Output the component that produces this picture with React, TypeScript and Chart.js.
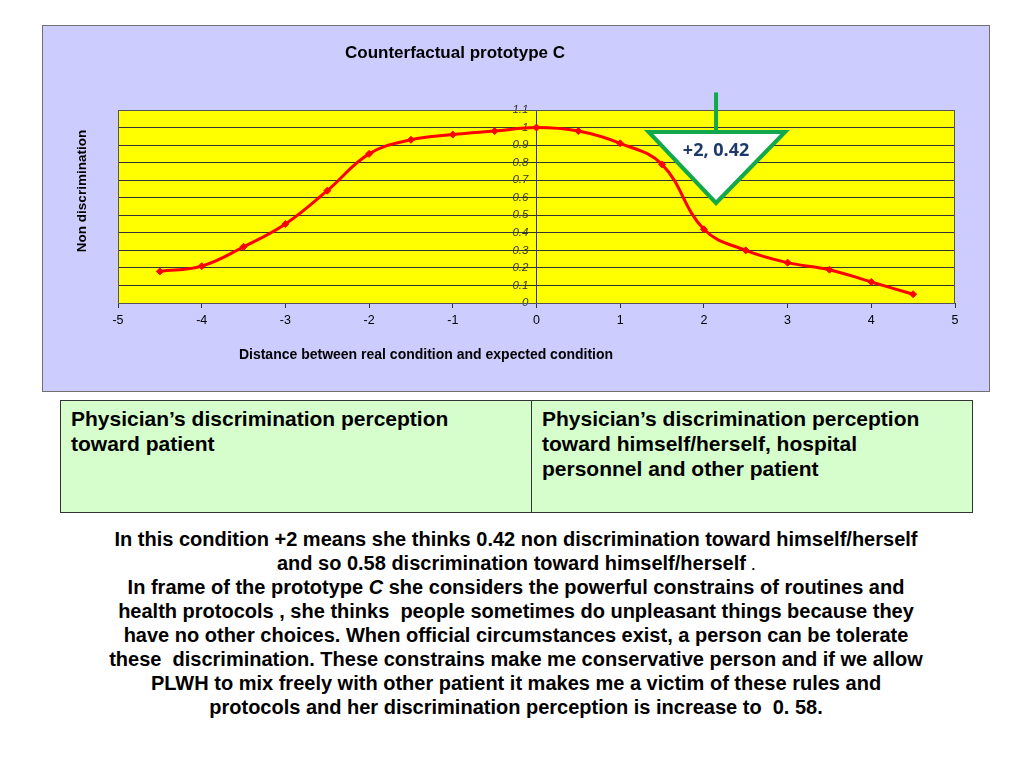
import React, { useEffect, useRef } from "react";
import { Chart, registerables } from "chart.js";

Chart.register(...registerables);

// ---- data ----
const xValues = [-4.5, -4, -3.5, -3, -2.5, -2, -1.5, -1, -0.5, 0, 0.5, 1, 1.5, 2, 2.5, 3, 3.5, 4, 4.5];
const yValues = [0.18, 0.21, 0.32, 0.45, 0.64, 0.85, 0.93, 0.96, 0.98, 1.0, 0.98, 0.91, 0.79, 0.42, 0.3, 0.23, 0.19, 0.12, 0.05];
const xRange = [-5, 5];
const yRange = [0, 1.1];
const chartTitle = "Counterfactual prototype C";
const xTitle = "Distance between real condition and expected condition";
const yTitle = "Non discrimination";
const calloutLabel = "+2, 0.42";
const tableCells = [
  "Physician\u2019s discrimination perception toward patient",
  "Physician\u2019s discrimination perception toward himself/herself, hospital personnel and other patient",
];

const FONT = "'Liberation Sans', Arial, sans-serif";

const decorPlugin = {
  id: "decor",
  beforeDraw(chart: any) {
    const { ctx, chartArea: a } = chart;
    ctx.save();
    ctx.fillStyle = "#ccccff";
    ctx.fillRect(0, 0, chart.width, chart.height);
    ctx.fillStyle = "#ffff00";
    ctx.fillRect(a.left, a.top, a.right - a.left, a.bottom - a.top);
    ctx.restore();
  },
  afterDraw(chart: any) {
    const { ctx, chartArea: a, scales } = chart;
    const xs = scales.x;
    const ys = scales.y;
    ctx.save();
    // plot border
    ctx.strokeStyle = "#555555";
    ctx.lineWidth = 1;
    ctx.strokeRect(a.left + 0.5, a.top + 0.5, a.right - a.left - 1, a.bottom - a.top);
    // titles
    ctx.fillStyle = "#000000";
    ctx.textAlign = "center";
    ctx.textBaseline = "middle";
    ctx.font = `bold 17px ${FONT}`;
    ctx.fillText(chartTitle, 412, 27);
    ctx.font = `bold 14px ${FONT}`;
    ctx.fillText(xTitle, 383, 329);
    ctx.save();
    ctx.translate(39, 165);
    ctx.rotate(-Math.PI / 2);
    ctx.font = `bold 13.5px ${FONT}`;
    ctx.fillText(yTitle, 0, 0);
    ctx.restore();

    // callout triangle
    const cx = xs.getPixelForValue(2.145);
    const lx = xs.getPixelForValue(1.34);
    const rx = xs.getPixelForValue(2.97);
    const ty = ys.getPixelForValue(0.975);
    const by = ys.getPixelForValue(0.57);
    const stemTop = ys.getPixelForValue(1.2);
    ctx.strokeStyle = "#12a84c";
    ctx.lineWidth = 4;
    ctx.lineJoin = "miter";
    ctx.beginPath();
    ctx.moveTo(cx, stemTop);
    ctx.lineTo(cx, ty);
    ctx.stroke();
    ctx.beginPath();
    ctx.moveTo(lx, ty);
    ctx.lineTo(rx, ty);
    ctx.lineTo(cx, by);
    ctx.closePath();
    ctx.fillStyle = "#ffffff";
    ctx.fill();
    ctx.stroke();
    ctx.fillStyle = "#1f3a68";
    ctx.font = `bold 18px 'Open Sans', ${FONT}`;
    ctx.fillText(calloutLabel, cx, ty + 19);
    ctx.restore();
  },
};

function ChartBox() {
  const ref = useRef<HTMLCanvasElement | null>(null);
  useEffect(() => {
    if (!ref.current) return;
    const chart = new Chart(ref.current, {
      type: "line",
      data: {
        datasets: [
          {
            data: xValues.map((x, i) => ({ x, y: yValues[i] })),
            borderColor: "#ff0000",
            backgroundColor: "#ff0000",
            borderWidth: 3,
            pointStyle: "rectRot",
            pointRadius: 3.5,
            pointBorderWidth: 1,
            tension: 0.4,
            fill: false,
          },
        ],
      },
      options: {
        animation: false,
        responsive: false,
        devicePixelRatio: 1,
        layout: { padding: { left: 75, right: 34, top: 84, bottom: 0 } },
        plugins: {
          legend: { display: false },
          tooltip: { enabled: false },
          title: { display: false },
        },
        scales: {
          x: {
            type: "linear",
            min: xRange[0],
            max: xRange[1],
            afterFit: (s: any) => {
              s.height = 88;
            },
            grid: {
              drawOnChartArea: false,
              drawTicks: true,
              tickLength: 5,
              color: "#333333",
            },
            border: { color: "#333333" },
            ticks: {
              stepSize: 1,
              padding: 5,
              color: "#000000",
              font: { family: FONT, size: 12.5 },
              callback: (v: any) => String(v),
            },
          },
          y: {
            type: "linear",
            position: { x: 0 } as any,
            min: yRange[0],
            max: yRange[1],
            grid: {
              color: "#333333",
              drawTicks: false,
            },
            border: { color: "#333333" },
            ticks: {
              stepSize: 0.1,
              padding: 6,
              color: "#333333",
              font: { family: FONT, size: 11.5, style: "italic" },
              // trailing spaces keep the labels clear of the centred axis line
              callback: (v: any) => String(Math.round(Number(v) * 10) / 10) + "\u2002\u2009",
            },
          },
        },
      } as any,
      plugins: [decorPlugin],
    });
    return () => chart.destroy();
  }, []);
  return <canvas ref={ref} width={946} height={365} style={{ display: "block", width: 946, height: 365 }} />;
}

const paragraphLines: React.ReactNode[] = [
  "In this condition +2 means she thinks 0.42 non discrimination toward himself/herself",
  <>
    and so 0.58 discrimination toward himself/herself <span style={{ fontSize: 13, lineHeight: 0 }}>.</span>
  </>,
  <>
    In frame of the prototype <i style={{ lineHeight: 0 }}>C</i> she considers the powerful constrains of routines and
  </>,
  "health protocols , she thinks\u00a0 people sometimes do unpleasant things because they",
  "have no other choices. When official circumstances exist, a person can be tolerate",
  "these\u00a0 discrimination. These constrains make me conservative person and if we allow",
  "PLWH to mix freely with other patient it makes me a victim of these rules and",
  "protocols and her discrimination perception is increase to\u00a0 0. 58.",
];

export default function App() {
  const cellStyle: React.CSSProperties = {
    position: "absolute",
    top: 0,
    bottom: 0,
    boxSizing: "border-box",
    padding: "5px 10px",
    fontFamily: FONT,
    fontWeight: "bold",
    fontSize: 21,
    lineHeight: "25px",
    color: "#000",
  };
  return (
    <div style={{ position: "absolute", left: 0, top: 0, width: 1024, height: 768, background: "#fff" }}>
      <div
        style={{
          position: "absolute",
          left: 42,
          top: 25,
          width: 948,
          height: 367,
          boxSizing: "border-box",
          border: "1px solid #707070",
        }}
      >
        <ChartBox />
      </div>
      <div
        style={{
          position: "absolute",
          left: 60,
          top: 400,
          width: 913,
          height: 113,
          boxSizing: "border-box",
          border: "1px solid #333",
          background: "#d6fdcc",
        }}
      >
        <div style={{ ...cellStyle, left: 0, width: 471, borderRight: "1px solid #333" }}>{tableCells[0]}</div>
        <div style={{ ...cellStyle, left: 471, right: 0 }}>{tableCells[1]}</div>
      </div>
      <div
        style={{
          position: "absolute",
          left: 80,
          top: 527,
          width: 872,
          textAlign: "center",
          fontFamily: "'Liberation Sans Narrow', 'Liberation Sans', Arial, sans-serif",
          fontWeight: "bold",
          fontSize: 20,
          color: "#000",
        }}
      >
        {paragraphLines.map((l, i) => (
          <div key={i} style={{ height: 24, lineHeight: "24px", whiteSpace: "nowrap" }}>
            {l}
          </div>
        ))}
      </div>
    </div>
  );
}
